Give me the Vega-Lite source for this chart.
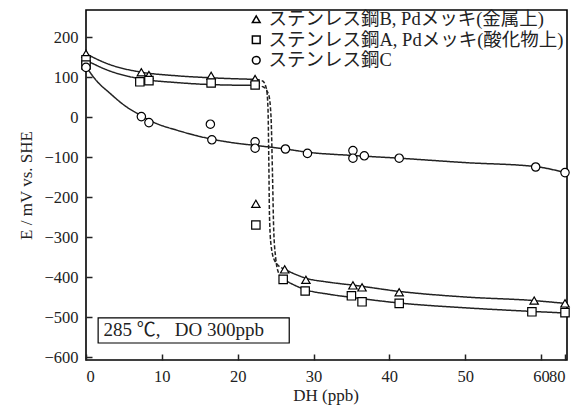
{
  "$schema": "https://vega.github.io/schema/vega-lite/v6.json",
  "width": 481,
  "height": 350,
  "autosize": {"type": "none"},
  "padding": {"left": 86, "top": 10, "right": 14, "bottom": 56},
  "background": "white",
  "config": {
    "view": {"stroke": "black", "strokeWidth": 1.6},
    "axis": {
      "labelFont": "Liberation Serif",
      "titleFont": "Liberation Serif",
      "labelFontSize": 16.5,
      "titleFontSize": 17,
      "labelColor": "#222",
      "titleColor": "#222",
      "titleFontWeight": "normal",
      "domain": false,
      "grid": false,
      "labelOverlap": false,
      "tickColor": "#222",
      "tickWidth": 1.5,
      "tickSize": -6
    }
  },
  "datasets": {
    "curves": [
      {"seg": "B1", "st": "solid", "x": 0, "y": 158},
      {"seg": "B1", "st": "solid", "x": 3, "y": 132},
      {"seg": "B1", "st": "solid", "x": 7, "y": 113},
      {"seg": "B1", "st": "solid", "x": 12, "y": 103},
      {"seg": "B1", "st": "solid", "x": 16.5, "y": 98},
      {"seg": "B1", "st": "solid", "x": 22.4, "y": 94},
      {"seg": "Bd", "st": "dashed", "x": 22.4, "y": 94},
      {"seg": "Bd", "st": "dashed", "x": 23.3, "y": 90},
      {"seg": "Bd", "st": "dashed", "x": 23.8, "y": 70},
      {"seg": "Bd", "st": "dashed", "x": 24.0, "y": 20},
      {"seg": "Bd", "st": "dashed", "x": 24.1, "y": -100},
      {"seg": "Bd", "st": "dashed", "x": 24.2, "y": -250},
      {"seg": "Bd", "st": "dashed", "x": 24.4, "y": -320},
      {"seg": "Bd", "st": "dashed", "x": 24.9, "y": -360},
      {"seg": "Bd", "st": "dashed", "x": 26.2, "y": -381},
      {"seg": "B2", "st": "solid", "x": 26.2, "y": -381},
      {"seg": "B2", "st": "solid", "x": 29, "y": -403},
      {"seg": "B2", "st": "solid", "x": 32, "y": -413},
      {"seg": "B2", "st": "solid", "x": 35.5, "y": -421},
      {"seg": "B2", "st": "solid", "x": 41.3, "y": -436},
      {"seg": "B2", "st": "solid", "x": 50, "y": -450},
      {"seg": "B2", "st": "solid", "x": 59.1, "y": -459},
      {"seg": "B2", "st": "solid", "x": 80, "y": -466},
      {"seg": "A1", "st": "solid", "x": 0, "y": 142},
      {"seg": "A1", "st": "solid", "x": 3, "y": 116},
      {"seg": "A1", "st": "solid", "x": 7, "y": 96},
      {"seg": "A1", "st": "solid", "x": 12, "y": 86},
      {"seg": "A1", "st": "solid", "x": 16.5, "y": 81},
      {"seg": "A1", "st": "solid", "x": 22.4, "y": 79},
      {"seg": "Ad", "st": "dashed", "x": 22.4, "y": 79},
      {"seg": "Ad", "st": "dashed", "x": 23.4, "y": 75},
      {"seg": "Ad", "st": "dashed", "x": 24.1, "y": 55},
      {"seg": "Ad", "st": "dashed", "x": 24.4, "y": 0},
      {"seg": "Ad", "st": "dashed", "x": 24.6, "y": -150},
      {"seg": "Ad", "st": "dashed", "x": 24.75, "y": -280},
      {"seg": "Ad", "st": "dashed", "x": 25.0, "y": -350},
      {"seg": "Ad", "st": "dashed", "x": 25.4, "y": -390},
      {"seg": "Ad", "st": "dashed", "x": 26.0, "y": -406},
      {"seg": "A2", "st": "solid", "x": 26.0, "y": -406},
      {"seg": "A2", "st": "solid", "x": 29, "y": -432},
      {"seg": "A2", "st": "solid", "x": 32, "y": -443},
      {"seg": "A2", "st": "solid", "x": 35.5, "y": -452},
      {"seg": "A2", "st": "solid", "x": 41.3, "y": -465},
      {"seg": "A2", "st": "solid", "x": 50, "y": -477},
      {"seg": "A2", "st": "solid", "x": 58.8, "y": -486},
      {"seg": "A2", "st": "solid", "x": 80, "y": -490},
      {"seg": "C", "st": "solid", "x": 0, "y": 126},
      {"seg": "C", "st": "solid", "x": 1.5, "y": 88},
      {"seg": "C", "st": "solid", "x": 3, "y": 62},
      {"seg": "C", "st": "solid", "x": 5, "y": 30},
      {"seg": "C", "st": "solid", "x": 7.3, "y": 3},
      {"seg": "C", "st": "solid", "x": 9, "y": -14},
      {"seg": "C", "st": "solid", "x": 12, "y": -33},
      {"seg": "C", "st": "solid", "x": 16.5, "y": -55},
      {"seg": "C", "st": "solid", "x": 20, "y": -66},
      {"seg": "C", "st": "solid", "x": 22.3, "y": -71},
      {"seg": "C", "st": "solid", "x": 26.3, "y": -80},
      {"seg": "C", "st": "solid", "x": 29.2, "y": -88},
      {"seg": "C", "st": "solid", "x": 35, "y": -96},
      {"seg": "C", "st": "solid", "x": 41.3, "y": -103},
      {"seg": "C", "st": "solid", "x": 50, "y": -114},
      {"seg": "C", "st": "solid", "x": 59.3, "y": -124},
      {"seg": "C", "st": "solid", "x": 80, "y": -139}
    ],
    "points": [
      {"s": "ステンレス鋼B, Pdメッキ(金属上)", "x": 0, "y": 158},
      {"s": "ステンレス鋼B, Pdメッキ(金属上)", "x": 7.3, "y": 112},
      {"s": "ステンレス鋼B, Pdメッキ(金属上)", "x": 8.3, "y": 105},
      {"s": "ステンレス鋼B, Pdメッキ(金属上)", "x": 16.5, "y": 103},
      {"s": "ステンレス鋼B, Pdメッキ(金属上)", "x": 22.3, "y": 95},
      {"s": "ステンレス鋼B, Pdメッキ(金属上)", "x": 22.4, "y": -217},
      {"s": "ステンレス鋼B, Pdメッキ(金属上)", "x": 26.2, "y": -381},
      {"s": "ステンレス鋼B, Pdメッキ(金属上)", "x": 29, "y": -407},
      {"s": "ステンレス鋼B, Pdメッキ(金属上)", "x": 35.2, "y": -421},
      {"s": "ステンレス鋼B, Pdメッキ(金属上)", "x": 36.4, "y": -426},
      {"s": "ステンレス鋼B, Pdメッキ(金属上)", "x": 41.3, "y": -438},
      {"s": "ステンレス鋼B, Pdメッキ(金属上)", "x": 59.1, "y": -459},
      {"s": "ステンレス鋼B, Pdメッキ(金属上)", "x": 80, "y": -466},
      {"s": "ステンレス鋼A, Pdメッキ(酸化物上)", "x": 0, "y": 143},
      {"s": "ステンレス鋼A, Pdメッキ(酸化物上)", "x": 0, "y": 130},
      {"s": "ステンレス鋼A, Pdメッキ(酸化物上)", "x": 7.1, "y": 88},
      {"s": "ステンレス鋼A, Pdメッキ(酸化物上)", "x": 8.3, "y": 91},
      {"s": "ステンレス鋼A, Pdメッキ(酸化物上)", "x": 16.5, "y": 85},
      {"s": "ステンレス鋼A, Pdメッキ(酸化物上)", "x": 22.3, "y": 80},
      {"s": "ステンレス鋼A, Pdメッキ(酸化物上)", "x": 22.4, "y": -270},
      {"s": "ステンレス鋼A, Pdメッキ(酸化物上)", "x": 26, "y": -406},
      {"s": "ステンレス鋼A, Pdメッキ(酸化物上)", "x": 28.9, "y": -435},
      {"s": "ステンレス鋼A, Pdメッキ(酸化物上)", "x": 35, "y": -447},
      {"s": "ステンレス鋼A, Pdメッキ(酸化物上)", "x": 36.4, "y": -462},
      {"s": "ステンレス鋼A, Pdメッキ(酸化物上)", "x": 41.3, "y": -466},
      {"s": "ステンレス鋼A, Pdメッキ(酸化物上)", "x": 58.8, "y": -487},
      {"s": "ステンレス鋼A, Pdメッキ(酸化物上)", "x": 80, "y": -489},
      {"s": "ステンレス鋼C", "x": 0, "y": 124},
      {"s": "ステンレス鋼C", "x": 7.3, "y": 1},
      {"s": "ステンレス鋼C", "x": 8.3, "y": -14},
      {"s": "ステンレス鋼C", "x": 16.4, "y": -18},
      {"s": "ステンレス鋼C", "x": 16.6, "y": -57},
      {"s": "ステンレス鋼C", "x": 22.3, "y": -62},
      {"s": "ステンレス鋼C", "x": 22.3, "y": -78},
      {"s": "ステンレス鋼C", "x": 26.3, "y": -80},
      {"s": "ステンレス鋼C", "x": 29.2, "y": -91},
      {"s": "ステンレス鋼C", "x": 35.2, "y": -84},
      {"s": "ステンレス鋼C", "x": 35.2, "y": -103},
      {"s": "ステンレス鋼C", "x": 36.7, "y": -97},
      {"s": "ステンレス鋼C", "x": 41.3, "y": -103},
      {"s": "ステンレス鋼C", "x": 59.3, "y": -125},
      {"s": "ステンレス鋼C", "x": 80, "y": -139}
    ],
    "box": [
      {"x": 1.6, "x2": 26.8, "y": -502, "y2": -565, "tx": 2.3, "ty": -533, "label": "285 ℃,\u00a0\u00a0\u00a0DO 300ppb"}
    ]
  },
  "encoding": {
    "x": {
      "field": "x",
      "type": "quantitative",
      "scale": {"domain": [0, 60, 80], "range": [0, 455, 479], "nice": false, "zero": false},
      "axis": {"values": [0, 10, 20, 30, 40, 50, 60, 80], "title": "DH (ppb)", "labelPadding": 14, "titlePadding": 3, "format": "d"}
    },
    "y": {
      "field": "y",
      "type": "quantitative",
      "scale": {"domain": [-607.5, 267.5], "nice": false, "zero": false},
      "axis": {"values": [-600, -500, -400, -300, -200, -100, 0, 100, 200], "title": "E / mV vs. SHE", "labelPadding": 14, "titlePadding": 8}
    }
  },
  "layer": [
    {
      "data": {"name": "curves"},
      "mark": {"type": "line", "interpolate": "monotone", "color": "#222", "strokeWidth": 1.5},
      "encoding": {
        "detail": {"field": "seg"},
        "strokeDash": {"field": "st", "type": "nominal", "scale": {"domain": ["solid", "dashed"], "range": [[1, 0], [4, 2]]}, "legend": null}
      }
    },
    {
      "data": {"name": "points"},
      "mark": {"type": "point", "filled": false, "fill": "white", "fillOpacity": 1, "stroke": "black", "strokeWidth": 1.2, "size": 70, "opacity": 1},
      "encoding": {
        "shape": {
          "field": "s",
          "type": "nominal",
          "scale": {
            "domain": ["ステンレス鋼B, Pdメッキ(金属上)", "ステンレス鋼A, Pdメッキ(酸化物上)", "ステンレス鋼C"],
            "range": ["triangle-up", "square", "circle"]
          },
          "legend": {
            "title": null,
            "orient": "none",
            "legendX": 161,
            "legendY": 0,
            "labelLimit": 0,
            "labelFont": "Liberation Serif, Noto Sans CJK JP",
            "labelFontSize": 18.5,
            "labelColor": "#222",
            "labelOffset": 3,
            "rowPadding": 1.5,
            "symbolSize": 60
          }
        }
      }
    },
    {
      "data": {"name": "box"},
      "mark": {"type": "rect", "fill": "white", "stroke": "black", "strokeWidth": 1.2},
      "encoding": {
        "x2": {"field": "x2"},
        "y2": {"field": "y2"}
      }
    },
    {
      "data": {"name": "box"},
      "mark": {"type": "text", "align": "left", "baseline": "middle", "font": "Liberation Serif, Noto Sans CJK JP", "fontSize": 19, "color": "#222"},
      "encoding": {
        "x": {"field": "tx", "type": "quantitative"},
        "y": {"field": "ty", "type": "quantitative"},
        "text": {"field": "label"}
      }
    }
  ]
}
